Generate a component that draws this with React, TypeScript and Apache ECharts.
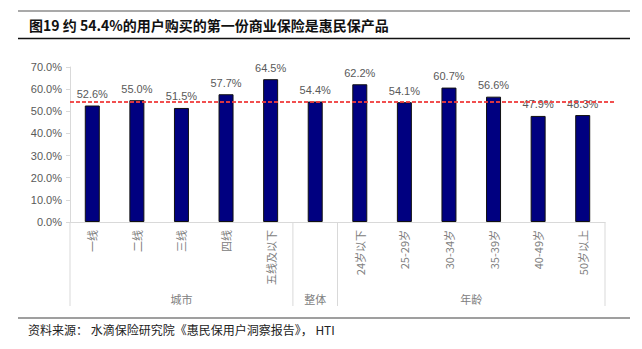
import React, { useEffect, useRef } from "react";
import * as echarts from "echarts";

const categories = ["一线", "二线", "三线", "四线", "五线及以下", "整体", "24岁以下", "25-29岁", "30-34岁", "35-39岁", "40-49岁", "50岁以上"];
const values = [52.6, 55.0, 51.5, 57.7, 64.5, 54.4, 62.2, 54.1, 60.7, 56.6, 47.9, 48.3];
const hiddenLabelIndex = 5;
const averageValue = 54.4;
const groups = [
  { name: "城市", from: 0, to: 4 },
  { name: "整体", from: 5, to: 5 },
  { name: "年龄", from: 6, to: 11 },
];
const titleText = "图19 约 54.4%的用户购买的第一份商业保险是惠民保产品";
const sourceText = "资料来源： 水滴保险研究院《惠民保用户洞察报告》， HTI";

const LATIN = "'Liberation Sans', Arial, 'Noto Sans CJK SC', sans-serif";
const CJK = "'Noto Sans CJK SC', 'Liberation Sans', sans-serif";

export default function App() {
  const ref = useRef<HTMLDivElement>(null);
  useEffect(() => {
    if (!ref.current) return;
    const chart = echarts.init(ref.current, undefined, { renderer: "svg" });
    chart.setOption({
      animation: false,
      backgroundColor: "#ffffff",
      grid: { left: 70, right: 37, top: 67, bottom: 127, containLabel: false },
      xAxis: {
        type: "category",
        data: categories,
        axisLine: { show: true, lineStyle: { color: "#d9d9d9", width: 1 } },
        axisTick: { show: false },
        axisLabel: {
          rotate: 90,
          interval: 0,
          margin: 8,
          fontSize: 11,
          color: "#808080",
          fontFamily: CJK,
          formatter: (v: string, i: number) => (i === hiddenLabelIndex ? "" : v),
        },
      },
      yAxis: {
        type: "value",
        min: 0,
        max: 70,
        interval: 10,
        axisLine: { show: true, lineStyle: { color: "#d9d9d9", width: 1 } },
        axisTick: { show: true, length: 4, lineStyle: { color: "#d9d9d9" } },
        splitLine: { show: false },
        axisLabel: {
          fontSize: 11,
          color: "#595959",
          fontFamily: LATIN,
          margin: 8,
          formatter: (v: number) => v.toFixed(1) + "%",
        },
      },
      series: [
        {
          type: "bar",
          data: values,
          barWidth: 15,
          itemStyle: { color: "#000080", borderColor: "#111111", borderWidth: 1 },
          label: {
            show: true,
            position: "top",
            distance: 6,
            fontSize: 11,
            color: "#595959",
            fontFamily: LATIN,
            formatter: (p: any) => p.value.toFixed(1) + "%",
          },
        },
      ],
    });

    const y0 = chart.convertToPixel({ yAxisIndex: 0 }, 0) as number;
    const yAvg = Math.round(chart.convertToPixel({ yAxisIndex: 0 }, averageValue) as number);
    const x0 = chart.convertToPixel({ xAxisIndex: 0 }, 0) as number;
    const x1 = chart.convertToPixel({ xAxisIndex: 0 }, 1) as number;
    const band = x1 - x0;
    const edge = (i: number) => (chart.convertToPixel({ xAxisIndex: 0 }, i) as number) - band / 2;
    const sepBottom = 306;
    const graphics: any[] = [];
    const sepXs = [edge(0)];
    groups.forEach((g) => sepXs.push(edge(g.to + 1)));
    sepXs.forEach((x) => {
      graphics.push({
        type: "line",
        shape: { x1: x, y1: y0, x2: x, y2: sepBottom },
        style: { stroke: "#d9d9d9", lineWidth: 1 },
      });
    });
    groups.forEach((g) => {
      const cx = (edge(g.from) + edge(g.to + 1)) / 2;
      graphics.push({
        type: "text",
        x: cx,
        y: 299,
        style: {
          text: g.name,
          fontSize: 11,
          fill: "#808080",
          fontFamily: CJK,
          align: "center",
          verticalAlign: "middle",
        },
      });
    });
    graphics.push({
      type: "line",
      z: 10,
      shape: { x1: edge(0), y1: yAvg, x2: 615, y2: yAvg },
      style: { stroke: "#f03c3c", lineWidth: 2, lineDash: [4, 2], opacity: 0.9 },
    });
    graphics.push(
      {
        type: "line",
        shape: { x1: 18, y1: 11, x2: 630, y2: 11 },
        style: { stroke: "#8c8c8c", lineWidth: 1.5 },
      },
      {
        type: "line",
        shape: { x1: 18, y1: 38.5, x2: 630, y2: 38.5 },
        style: { stroke: "#111111", lineWidth: 1.5 },
      },
      {
        type: "text",
        x: 29,
        y: 25,
        style: {
          text: titleText,
          fontSize: 14,
          fontWeight: "bold",
          fill: "#111111",
          fontFamily: CJK,
          verticalAlign: "middle",
        },
      },
      {
        type: "line",
        shape: { x1: 18, y1: 318, x2: 630, y2: 318 },
        style: { stroke: "#7f7f7f", lineWidth: 1.5 },
      },
      {
        type: "text",
        x: 28,
        y: 329,
        style: {
          text: sourceText,
          fontSize: 12,
          fill: "#222222",
          fontFamily: CJK,
          verticalAlign: "middle",
        },
      }
    );
    chart.setOption({ graphic: graphics });
    return () => chart.dispose();
  }, []);
  return <div ref={ref} style={{ position: "fixed", left: 0, top: 0, width: 642, height: 349 }} />;
}
